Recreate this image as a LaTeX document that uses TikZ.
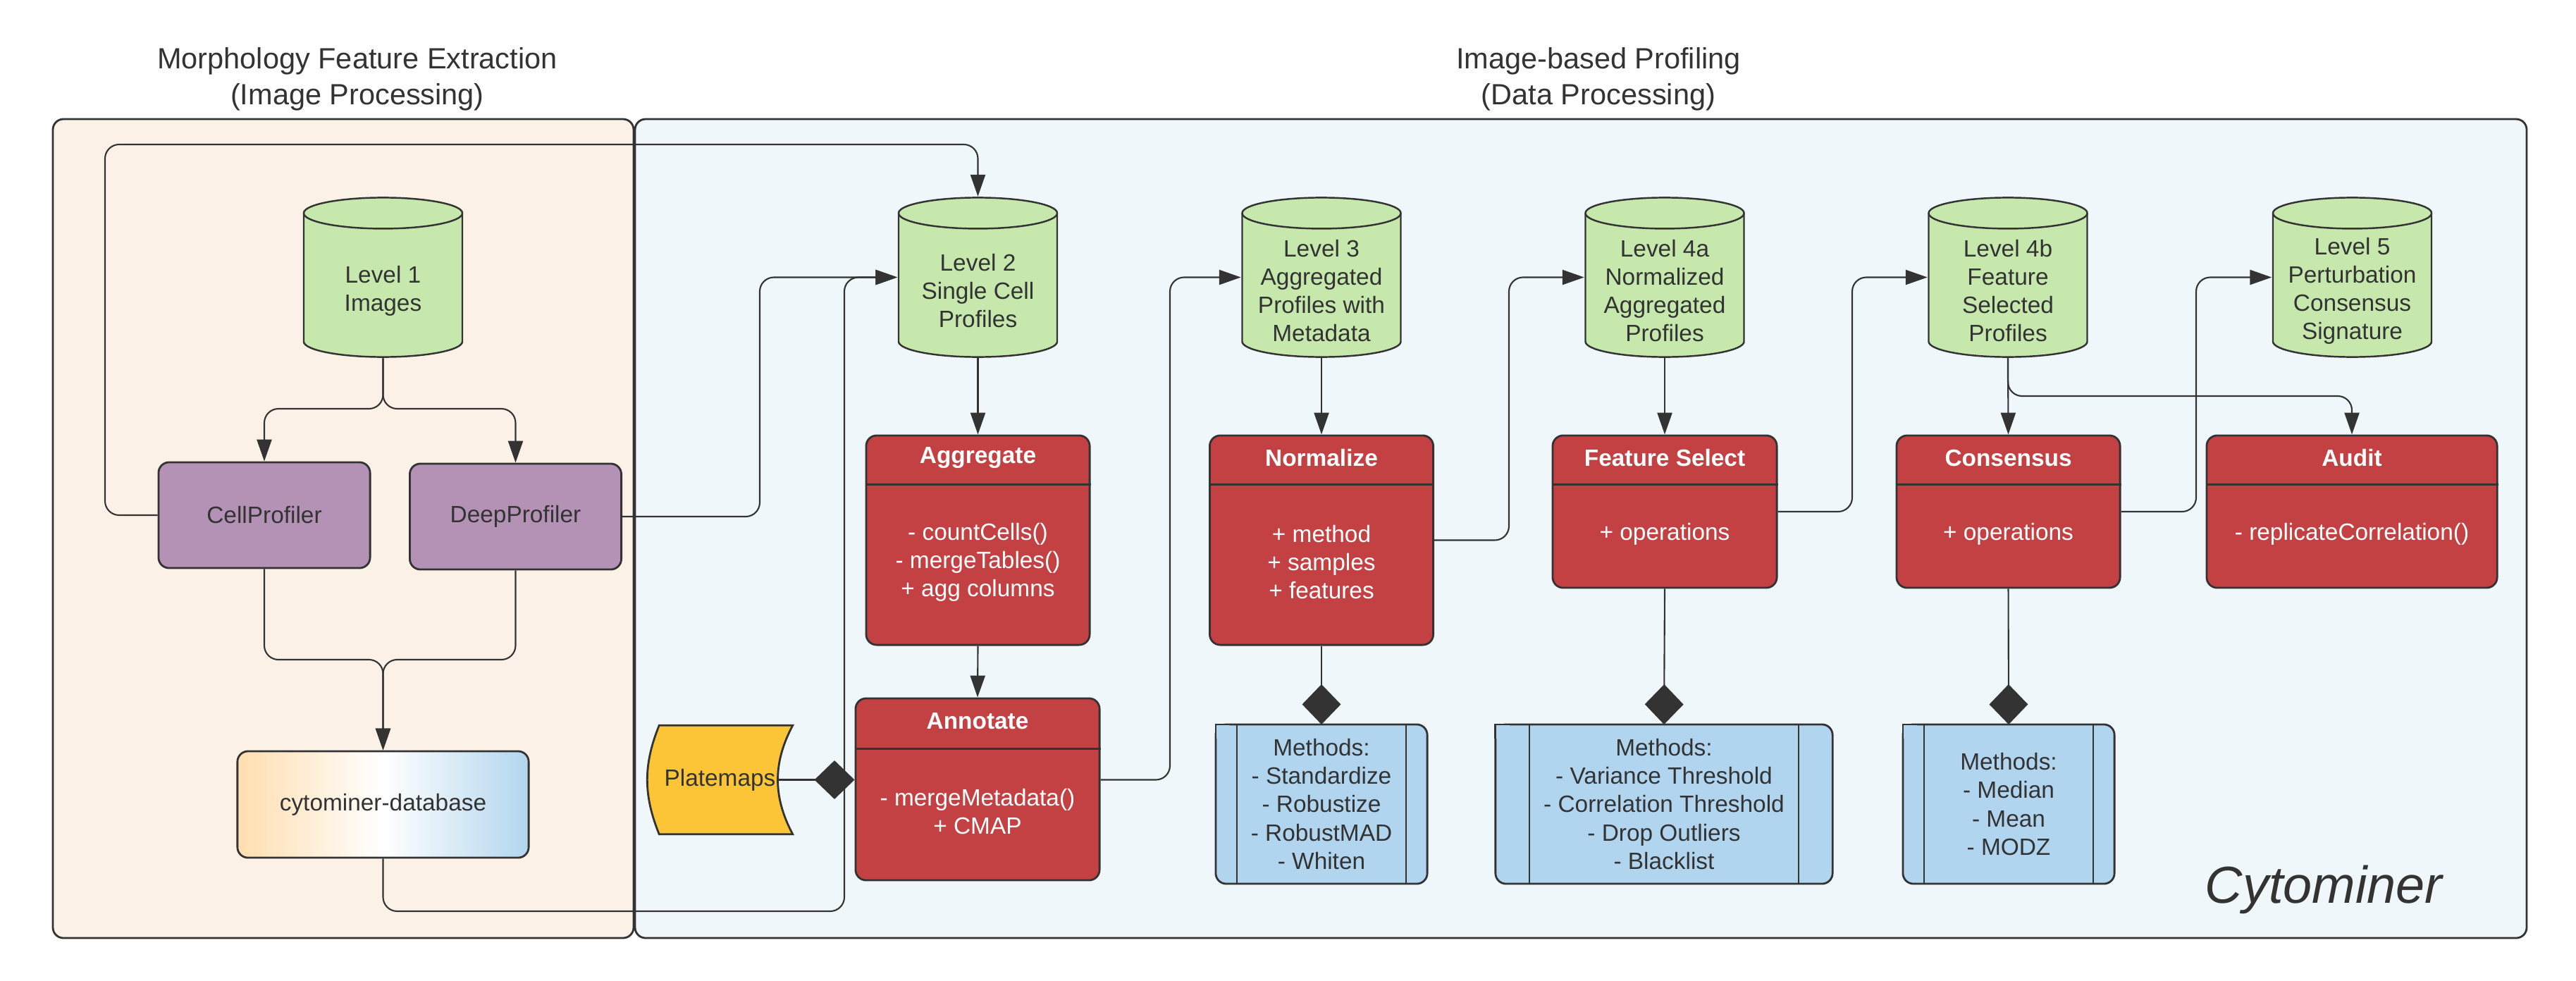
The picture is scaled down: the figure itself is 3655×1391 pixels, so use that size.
\documentclass[tikz,border=0pt]{standalone}
\usepackage{fontspec}
\setmainfont{Liberation Sans}
\usepackage{tikz}
\usetikzlibrary{arrows.meta,calc}

\definecolor{ink}{HTML}{333333}
\definecolor{peach}{HTML}{FCF1E7}
\definecolor{sky}{HTML}{F0F7FB}
\definecolor{lvlgreen}{HTML}{C6E8AC}
\definecolor{toolpurple}{HTML}{B392B5}
\definecolor{classred}{HTML}{C34143}
\definecolor{methblue}{HTML}{B1D5EF}
\definecolor{mapyellow}{HTML}{FBC537}
\definecolor{dborange}{HTML}{FFDEB0}
\definecolor{dbblue}{HTML}{B2D6EE}

\tikzset{
  txt/.style={font=\fontsize{9.5}{11.4}\selectfont, text=ink, align=center},
  head/.style={font=\fontsize{11.8}{14.5}\selectfont, text=ink, align=center},
  brand/.style={font=\fontsize{21}{25}\selectfont\itshape, text=ink},
  panel/.style={draw=ink, line width=0.8pt, rounded corners=0.15cm},
  level/.style={minimum width=2.27cm, minimum height=2.28cm, inner sep=0pt,
    path picture={
      \filldraw[draw=ink, fill=lvlgreen, line width=0.7pt]
        ([shift={(1,23)}]path picture bounding box.north west)
        -- ([shift={(1,-23)}]path picture bounding box.south west)
        arc[start angle=180, end angle=360, x radius=1.125cm, y radius=0.22cm]
        -- ([shift={(-1,23)}]path picture bounding box.north east)
        arc[start angle=0, end angle=180, x radius=1.125cm, y radius=0.22cm] -- cycle;
      \draw[ink, line width=0.7pt] ([shift={(1,23)}]path picture bounding box.north west)
        arc[start angle=180, end angle=360, x radius=1.125cm, y radius=0.22cm];
    }},
  tool/.style={txt, draw=ink, line width=0.8pt, fill=toolpurple, rounded corners=0.15cm,
    minimum width=3cm, minimum height=1.5cm},
  dbbox/.style={txt, draw=ink, line width=0.8pt, rounded corners=0.15cm,
    left color=dborange, right color=dbblue, middle color=white,
    minimum width=4.13cm, minimum height=1.51cm},
  cls/.style={draw=ink, line width=0.8pt, fill=classred, rounded corners=0.15cm},
  clstitle/.style={txt, text=white, font=\fontsize{9.5}{11.4}\selectfont\bfseries},
  clsbody/.style={txt, text=white},
  divider/.style={draw=ink, line width=0.8pt},
  meth/.style={txt, draw=ink, line width=0.8pt, fill=methblue, rounded corners=0.15cm,
    minimum height=2.26cm, outer sep=0pt,
    path picture={
      \draw[ink, line width=0.6pt]
        ([xshift=#1]path picture bounding box.north west) -- ([xshift=#1]path picture bounding box.south west)
        ([xshift=-#1]path picture bounding box.north east) -- ([xshift=-#1]path picture bounding box.south east);
    }},
  conn/.style={draw=ink, line width=0.6pt, rounded corners=0.2cm},
  arr/.style={conn, -{Triangle[length=8.8pt, width=6pt]}},
  has/.style={conn, -{Diamond[length=16.2pt, width=15.6pt]}},
}

\begin{document}
\begin{tikzpicture}[x=0.01cm, y=-0.01cm]
  \useasboundingbox (0,0) rectangle (3655,1391);

  \draw[panel, fill=peach] (75,169) rectangle (899,1331);
  \draw[panel, fill=sky] (901,169) rectangle (3585,1331);
  \node[head] (imgT) at (507,112) {Morphology Feature Extraction\\(Image Processing)};
  \node[head] (dataT) at (2268,112) {Image-based Profiling\\(Data Processing)};
  \node[brand, anchor=base] (brandT) at (3297,1281) {Cytominer};

  \node[level] (lvl1) at (543.5,393.5) {};
  \node[txt] (lvl1T) at ($(lvl1.center)+(0,19)$) {Level 1\\Images};
  \node[level] (lvl2) at (1387.5,393.5) {};
  \node[txt] (lvl2T) at ($(lvl2.center)+(0,19)$) {Level 2\\Single Cell\\Profiles};
  \node[level] (lvl3) at (1875,393.5) {};
  \node[txt] (lvl3T) at ($(lvl3.center)+(0,19)$) {Level 3\\Aggregated\\Profiles with\\Metadata};
  \node[level] (lvl4a) at (2362,393.5) {};
  \node[txt] (lvl4aT) at ($(lvl4a.center)+(0,19)$) {Level 4a\\Normalized\\Aggregated\\Profiles};
  \node[level] (lvl4b) at (2849,393.5) {};
  \node[txt] (lvl4bT) at ($(lvl4b.center)+(0,19)$) {Level 4b\\Feature\\Selected\\Profiles};
  \node[level] (lvl5) at (3337.5,393.5) {};
  \node[txt] (lvl5T) at ($(lvl5.center)+(0,19)$) {Level 5\\Perturbation\\Consensus\\Signature};

  \node[tool] (cp) at (375,731) {CellProfiler};
  \node[tool] (dp) at (731.5,733) {DeepProfiler};
  \node[dbbox] (db) at (543.5,1141.5) {cytominer-database};

  \node[minimum width=2.05cm, minimum height=1.53cm, inner sep=0pt] (plate) at (1021.5,1106.5) {};
  \filldraw[draw=ink, fill=mapyellow, line width=0.8pt]
    ($(plate.north west)+(17,0)$) -- (plate.north east) to[bend right=28] (plate.south east)
    -- ($(plate.south west)+(17,0)$) to[bend left=22] ($(plate.north west)+(17,0)$) -- cycle;
  \node[txt] (plateT) at (plate) {Platemaps};
  \coordinate (plateout) at ($(plate.east)+(-21,0)$);

  \node[cls, minimum width=3.17cm, minimum height=2.97cm] (agg) at (1387.5,766.5) {};
  \draw[divider] ($(agg.north west)+(0,71)$) -- ($(agg.north east)+(0,71)$);
  \node[clstitle] (aggT) at ($(agg.north)+(0,33)$) {Aggregate};
  \node[clsbody] (aggB) at ($(agg.north)+(0,181)$) {- countCells()\\- mergeTables()\\+ agg columns};

  \node[cls, minimum width=3.46cm, minimum height=2.58cm] (ann) at (1387,1120) {};
  \draw[divider] ($(ann.north west)+(0,73)$) -- ($(ann.north east)+(0,73)$);
  \node[clstitle] (annT) at ($(ann.north)+(0,34)$) {Annotate};
  \node[clsbody] (annB) at ($(ann.north)+(0,162)$) {- mergeMetadata()\\+ CMAP};

  \node[cls, minimum width=3.17cm, minimum height=2.97cm] (norm) at (1875,766.5) {};
  \draw[divider] ($(norm.north west)+(0,71)$) -- ($(norm.north east)+(0,71)$);
  \node[clstitle] (normT) at ($(norm.north)+(0,33)$) {Normalize};
  \node[clsbody] (normB) at ($(norm.north)+(0,181)$) {+ method\\+ samples\\+ features};

  \node[cls, minimum width=3.18cm, minimum height=2.16cm] (fs) at (2362,726) {};
  \draw[divider] ($(fs.north west)+(0,71)$) -- ($(fs.north east)+(0,71)$);
  \node[clstitle] (fsT) at ($(fs.north)+(0,33)$) {Feature Select};
  \node[clsbody] (fsB) at ($(fs.north)+(0,141)$) {+ operations};

  \node[cls, minimum width=3.17cm, minimum height=2.16cm] (cons) at (2849.5,726) {};
  \draw[divider] ($(cons.north west)+(0,71)$) -- ($(cons.north east)+(0,71)$);
  \node[clstitle] (consT) at ($(cons.north)+(0,33)$) {Consensus};
  \node[clsbody] (consB) at ($(cons.north)+(0,141)$) {+ operations};

  \node[cls, minimum width=4.12cm, minimum height=2.16cm] (aud) at (3337,726) {};
  \draw[divider] ($(aud.north west)+(0,71)$) -- ($(aud.north east)+(0,71)$);
  \node[clstitle] (audT) at ($(aud.north)+(0,33)$) {Audit};
  \node[clsbody] (audB) at ($(aud.north)+(0,141)$) {- replicateCorrelation()};

  \node[meth=0.3cm, minimum width=3cm] (normM) at (1875,1141) {Methods:\\- Standardize\\- Robustize\\- RobustMAD\\- Whiten};
  \fill[methblue] (normM.north west) rectangle ++(20,20);
  \draw[divider] ($(normM.north west)+(0,20)$) |- ($(normM.north west)+(20,0)$);
  \node[meth=0.48cm, minimum width=4.78cm] (fsM) at (2361,1141) {Methods:\\- Variance Threshold\\- Correlation Threshold\\- Drop Outliers\\- Blacklist};
  \fill[methblue] (fsM.north west) rectangle ++(20,20);
  \draw[divider] ($(fsM.north west)+(0,20)$) |- ($(fsM.north west)+(20,0)$);
  \node[meth=0.3cm, minimum width=3cm] (consM) at (2850,1141) {Methods:\\- Median\\- Mean\\- MODZ};
  \fill[methblue] (consM.north west) rectangle ++(20,20);
  \draw[divider] ($(consM.north west)+(0,20)$) |- ($(consM.north west)+(20,0)$);

  \coordinate (splitA) at (543.5,580);
  \coordinate (joinA) at (543.5,936);
  \coordinate (cpup) at (149,205);
  \coordinate (dpup) at (1078,393.5);
  \coordinate (dbturn) at (1198,1293);
  \coordinate (annup) at (1660,393.5);
  \coordinate (normup) at (2141,393.5);
  \coordinate (fsup) at (2628,393.5);
  \coordinate (consup) at (3116,393.5);
  \coordinate (splitB) at (2849,562);

  \draw[arr] (lvl1.south) -- (splitA) -| (cp.north);
  \draw[arr] (lvl1.south) -- (splitA) -| (dp.north);
  \draw[arr] (cp.south) |- (joinA) -- (db.north);
  \draw[arr] (dp.south) |- (joinA) -- (db.north);
  \draw[arr] (cp.west) -| (cpup) -| (lvl2.north);
  \draw[arr] (dp.east) -| (dpup) -- (lvl2.west);
  \draw[arr] (db.south) |- (dbturn) |- (lvl2.west);
  \draw[arr] (lvl2.south) -- (agg.north);
  \draw[arr] (agg.south) -- (ann.north);
  \draw[has] (plateout) -- (plateout -| ann.west);
  \draw[arr] (ann.east |- plateout) -| (annup) -- (lvl3.west);
  \draw[arr] (lvl3.south) -- (norm.north);
  \draw[has] (norm.south) -- (normM.north);
  \draw[arr] (norm.east) -| (normup) -- (lvl4a.west);
  \draw[arr] (lvl4a.south) -- (fs.north);
  \draw[has] (fs.south) -- (fsM.north);
  \draw[arr] (fs.east) -| (fsup) -- (lvl4b.west);
  \draw[arr] (lvl4b.south) -- (cons.north);
  \draw[arr] (lvl4b.south) -- (splitB) -| (aud.north);
  \draw[has] (cons.south) -- (consM.north);
  \draw[arr] (cons.east) -| (consup) -- (lvl5.west);
\end{tikzpicture}
\end{document}
